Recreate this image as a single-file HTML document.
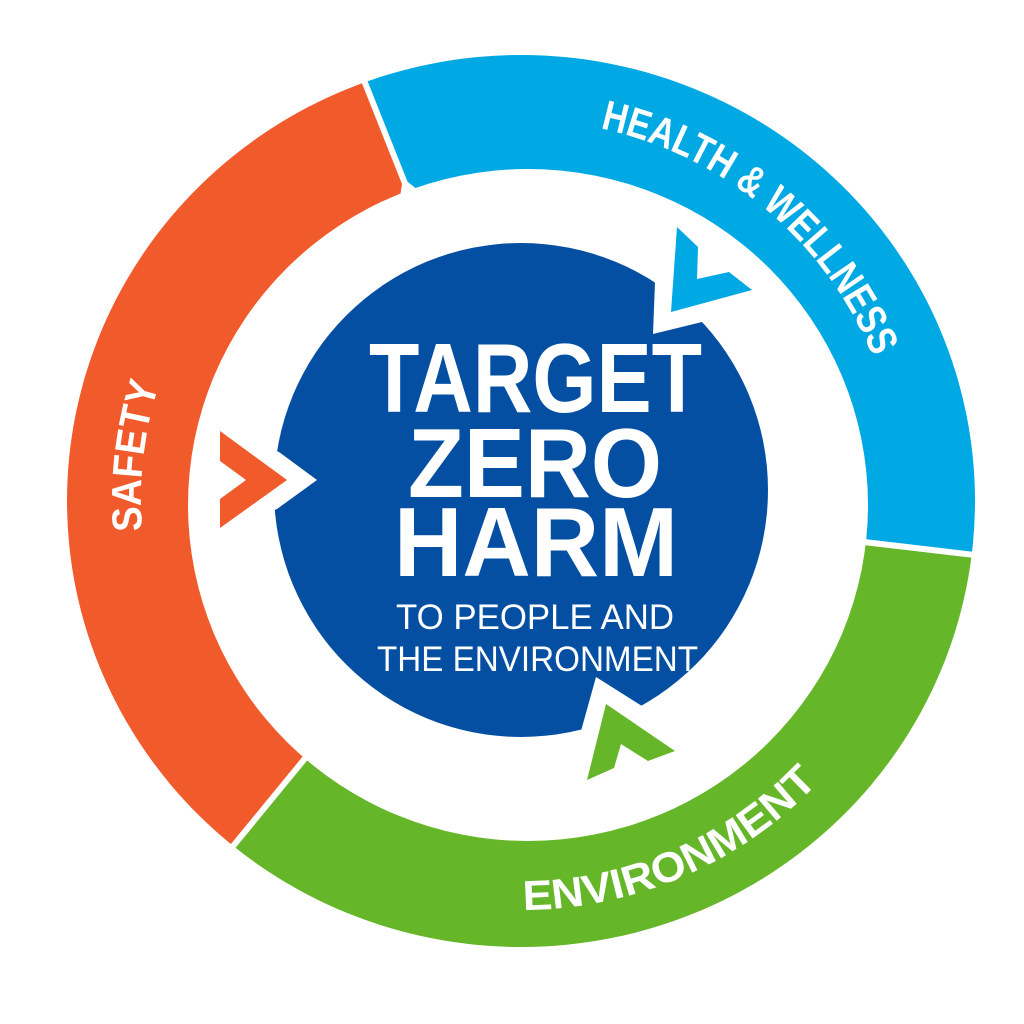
<!DOCTYPE html>
<html><head><meta charset="utf-8"><style>
html,body{margin:0;padding:0;background:#fff;width:1024px;height:1024px;overflow:hidden}
svg{display:block;overflow:hidden}
text{font-family:"Liberation Sans",sans-serif;fill:#fff}
</style></head><body>
<svg width="1024" height="1024" viewBox="0 0 1024 1024">
<defs>
<clipPath id="ring"><path clip-rule="evenodd" d="M67,501 A454,446 0 1 1 975,501 A454,446 0 1 1 67,501 Z M188,505 A340,336 0 1 0 868,505 A340,336 0 1 0 188,505 Z"/></clipPath>
<path id="cw" d="M521,880 A380,380 0 1 1 521,120 A380,380 0 1 1 521,880"/>
<path id="ccw" d="M111,500 A410,410 0 1 0 931,500 A410,410 0 1 0 111,500"/>
</defs>
<g clip-path="url(#ring)">
<polygon fill="#F15A2B" points="403,178 330,-10 -100,-10 -100,1100 22,1100 310,752"/>
<polygon fill="#00A9E3" points="330,-10 1100,-10 1100,570 850,540 403,178"/>
<polygon fill="#66B62A" points="850,540 1100,570 1100,1100 22,1100 310,752 528,505"/>
</g>
<g stroke="#fff" stroke-width="6">
<line x1="340" y1="20" x2="410" y2="196"/>
<line x1="830" y1="538" x2="1000" y2="558"/>
<line x1="325" y1="734" x2="220" y2="862"/>
</g>
<circle cx="521" cy="490" r="247" fill="#054FA3"/>
<polygon fill="#fff" points="250,440 279,452 317,480 277,509 250,520"/>
<polygon fill="#fff" points="655,262 655,282 653,334 702,322 730,300 700,250"/>
<polygon fill="#fff" points="581,731 596,677 642,706 670,740 575,765"/>
<polygon fill="#F15A2B" points="220,431 287,480 220,528 220,499 246,480 220,461"/>
<polygon fill="#00A9E3" points="677,227 698,247 697,279 729,272 752,290 671,312"/>
<polygon fill="#66B62A" points="606,704 675,751 648,761 621,744 614,768 587,780"/>
<text x="369" y="412" font-size="98" font-weight="bold" textLength="333" lengthAdjust="spacingAndGlyphs">TARGET</text>
<text x="408" y="497" font-size="98" font-weight="bold" textLength="254" lengthAdjust="spacingAndGlyphs">ZERO</text>
<text x="394" y="576" font-size="98" font-weight="bold" textLength="284" lengthAdjust="spacingAndGlyphs">HARM</text>
<text x="396" y="629" font-size="35" textLength="278" lengthAdjust="spacingAndGlyphs">TO PEOPLE AND</text>
<text x="377" y="671" font-size="35" textLength="321" lengthAdjust="spacingAndGlyphs">THE ENVIRONMENT</text>
<text font-size="42" font-weight="bold" text-anchor="middle"><textPath href="#cw" startOffset="26.8%" textLength="148" lengthAdjust="spacingAndGlyphs">SAFETY</textPath></text>
<text font-size="42" font-weight="bold" text-anchor="middle"><textPath href="#cw" startOffset="61.1%" textLength="370" lengthAdjust="spacingAndGlyphs">HEALTH &amp; WELLNESS</textPath></text>
<text font-size="42" font-weight="bold" text-anchor="middle"><textPath href="#ccw" startOffset="31.5%" textLength="330" lengthAdjust="spacingAndGlyphs">ENVIRONMENT</textPath></text>
</svg>
</body></html>
